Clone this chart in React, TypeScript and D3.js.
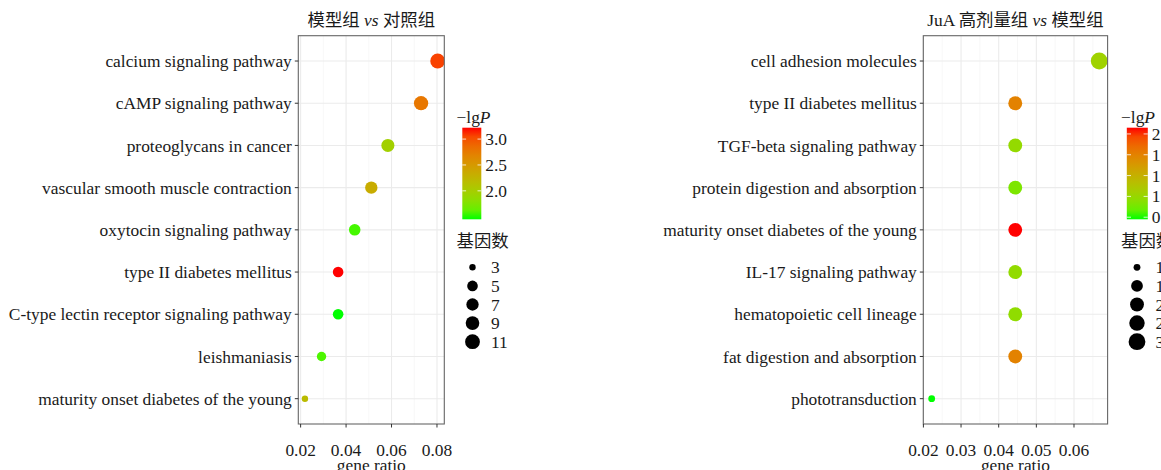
import React from "react";
import * as d3 from "d3";

// ---------- data ----------
const leftTitleA = "模型组 ";
const leftTitleB = "对照组";
const rightTitleA = "JuA 高剂量组 ";
const rightTitleB = "模型组";

const leftTerms = [
  "calcium signaling pathway",
  "cAMP signaling pathway",
  "proteoglycans in cancer",
  "vascular smooth muscle contraction",
  "oxytocin signaling pathway",
  "type II diabetes mellitus",
  "C-type lectin receptor signaling pathway",
  "leishmaniasis",
  "maturity onset diabetes of the young",
];
const leftRatio = [0.0803, 0.073, 0.0584, 0.0511, 0.0438, 0.0365, 0.0365, 0.0292, 0.0219];
const leftCount = [11, 10, 8, 7, 6, 5, 5, 4, 3];
const leftLgP = [3.08, 2.78, 1.97, 2.33, 1.53, 3.22, 1.45, 1.55, 2.18];
const leftXTicks = [0.02, 0.04, 0.06, 0.08];
const leftColorTicks = [2.0, 2.5, 3.0];
const leftSizeTicks = [3, 5, 7, 9, 11];

const rightTerms = [
  "cell adhesion molecules",
  "type II diabetes mellitus",
  "TGF-beta signaling pathway",
  "protein digestion and absorption",
  "maturity onset diabetes of the young",
  "IL-17 signaling pathway",
  "hematopoietic cell lineage",
  "fat digestion and absorption",
  "phototransduction",
];
const rightRatio = [0.0667, 0.0444, 0.0444, 0.0444, 0.0444, 0.0444, 0.0444, 0.0444, 0.0222];
const rightCount = [3, 2, 2, 2, 2, 2, 2, 2, 1];
const rightLgP = [1.24, 1.8, 1.18, 1.08, 2.19, 1.17, 1.16, 1.8, 0.87];
const rightXTicks = [0.02, 0.03, 0.04, 0.05, 0.06];
const rightColorTicks = [0.9, 1.2, 1.5, 1.8, 2.1];
const rightSizeTicks = [1.0, 1.5, 2.0, 2.5, 3.0];

// ---------- style ----------
const FONT = "'Liberation Serif', 'Times New Roman', 'Noto Sans CJK SC', serif";
const FS = 17.4;
const LOW = "#00ff00";
const HIGH = "#ff0000";

type PanelProps = {
  id: string;
  terms: string[];
  ratio: number[];
  count: number[];
  lgp: number[];
  xTicks: number[];
  colorTicks: number[];
  sizeTicks: number[];
  sizeFmt: (v: number) => string;
  colorFmt: (v: number) => string;
  titleA: string;
  titleB: string;
  box: { x0: number; x1: number; y0: number; y1: number };
  legendX: number;
  barW: number;
  dRange: [number, number];
};

function Panel(p: PanelProps) {
  const { box } = p;
  const xmin = d3.min(p.ratio)!;
  const xmax = d3.max(p.ratio)!;
  const pad = (xmax - xmin) * 0.05;
  const x = d3.scaleLinear().domain([xmin - pad, xmax + pad]).range([box.x0, box.x1]);
  const y = d3.scalePoint<string>().domain(p.terms).range([box.y0, box.y1]).padding(0.6);
  const cmin = d3.min(p.lgp)!;
  const cmax = d3.max(p.lgp)!;
  const color = d3
    .scaleLinear<string>()
    .domain([cmin, cmax])
    .range([LOW, HIGH])
    .interpolate(d3.interpolateLab);
  const smin = d3.min(p.count)!;
  const smax = d3.max(p.count)!;
  const sizeR = (c: number) => {
    const t = Math.sqrt((c - smin) / (smax - smin));
    return (p.dRange[0] + (p.dRange[1] - p.dRange[0]) * t) / 2;
  };

  const step = p.xTicks[1] - p.xTicks[0];
  const minor: number[] = [];
  const [d0, d1] = x.domain();
  for (let v = p.xTicks[0] - step / 2; v <= d1; v += step) {
    if (v >= d0) minor.push(v);
  }

  const L = p.legendX;
  const barX = L + 5.8;
  const barW = p.barW;
  const barY0 = 127.7;
  const barY1 = 219.3;
  const cbar = d3.scaleLinear().domain([cmin, cmax]).range([barY1, barY0]);
  const stops = d3.range(0, 1.0001, 0.1);
  const gradId = `grad-${p.id}`;
  const clipId = `clip-${p.id}`;

  const sizeY0 = 267.3;
  const sizeStep = 18.6;
  const circX = L + 16;

  return (
    <g>
      <defs>
        <clipPath id={clipId}>
          <rect x={box.x0} y={box.y0} width={box.x1 - box.x0} height={box.y1 - box.y0} />
        </clipPath>
        <linearGradient id={gradId} x1="0" y1="1" x2="0" y2="0">
          {stops.map((t) => (
            <stop key={t} offset={t} stopColor={color(cmin + t * (cmax - cmin))} />
          ))}
        </linearGradient>
      </defs>
      <rect x={box.x0} y={box.y0} width={box.x1 - box.x0} height={box.y1 - box.y0} fill="#fff" />
      {minor.map((v) => (
        <line key={"mn" + v} x1={x(v)} x2={x(v)} y1={box.y0} y2={box.y1} stroke="#f2f2f2" strokeWidth={0.6} />
      ))}
      {p.xTicks.map((v) => (
        <line key={"mj" + v} x1={x(v)} x2={x(v)} y1={box.y0} y2={box.y1} stroke="#ebebeb" strokeWidth={1.1} />
      ))}
      {p.terms.map((t) => (
        <line key={"h" + t} x1={box.x0} x2={box.x1} y1={y(t)} y2={y(t)} stroke="#ebebeb" strokeWidth={1.1} />
      ))}
      <g clipPath={`url(#${clipId})`}>
        {p.terms.map((t, i) => (
          <circle key={"pt" + t} cx={x(p.ratio[i])} cy={y(t)!} r={sizeR(p.count[i])} fill={color(p.lgp[i])} />
        ))}
      </g>
      <rect
        x={box.x0}
        y={box.y0}
        width={box.x1 - box.x0}
        height={box.y1 - box.y0}
        fill="none"
        stroke="#666"
        strokeWidth={1.1}
      />
      {p.terms.map((t) => (
        <g key={"yt" + t}>
          <line x1={box.x0 - 3.5} x2={box.x0} y1={y(t)} y2={y(t)} stroke="#333" strokeWidth={1} />
          <text x={box.x0 - 6.5} y={y(t)} dy="0.35em" textAnchor="end" fontSize={FS} fill="#1a1a1a">
            {t}
          </text>
        </g>
      ))}
      {p.xTicks.map((v) => (
        <g key={"xt" + v}>
          <line x1={x(v)} x2={x(v)} y1={box.y1} y2={box.y1 + 3.5} stroke="#333" strokeWidth={1} />
          <text x={x(v)} y={box.y1 + 31.5} textAnchor="middle" fontSize={FS} fill="#1a1a1a">
            {d3.format(".2f")(v)}
          </text>
        </g>
      ))}
      <text x={(box.x0 + box.x1) / 2} y={470.5} textAnchor="middle" fontSize={FS} fill="#1a1a1a">
        gene ratio
      </text>
      <text x={(box.x0 + box.x1) / 2} y={26} textAnchor="middle" fontSize={FS} fill="#1a1a1a">
        {p.titleA}
        <tspan fontStyle="italic">vs</tspan> {p.titleB}
      </text>
      <text x={L} y={123} fontSize={FS} fill="#1a1a1a">
        −lg<tspan fontStyle="italic">P</tspan>
      </text>
      <rect x={barX} y={barY0} width={barW} height={barY1 - barY0} fill={`url(#${gradId})`} />
      {p.colorTicks.map((v) => (
        <g key={"ct" + v}>
          <line x1={barX} x2={barX + barW / 5} y1={cbar(v)} y2={cbar(v)} stroke="#fff" strokeWidth={0.8} />
          <line x1={barX + barW - barW / 5} x2={barX + barW} y1={cbar(v)} y2={cbar(v)} stroke="#fff" strokeWidth={0.8} />
          <text x={barX + barW + 4} y={cbar(v)} dy="0.35em" fontSize={FS} fill="#1a1a1a">
            {p.colorFmt(v)}
          </text>
        </g>
      ))}
      <text x={L} y={247} fontSize={FS} fill="#1a1a1a">
        基因数
      </text>
      {p.sizeTicks.map((v, i) => (
        <g key={"sz" + v}>
          <circle cx={circX} cy={sizeY0 + i * sizeStep} r={sizeR(v)} fill="#000" />
          <text x={circX + 18.5} y={sizeY0 + i * sizeStep} dy="0.35em" fontSize={FS} fill="#1a1a1a">
            {p.sizeFmt(v)}
          </text>
        </g>
      ))}
    </g>
  );
}

export default function App() {
  return (
    <svg
      width={1161}
      height={470}
      style={{ position: "absolute", left: 0, top: 0, display: "block", background: "#fff" }}
      fontFamily={FONT}
    >
      <rect width={1161} height={470} fill="#fff" />
      <Panel
        id="l"
        terms={leftTerms}
        ratio={leftRatio}
        count={leftCount}
        lgp={leftLgP}
        xTicks={leftXTicks}
        colorTicks={leftColorTicks}
        sizeTicks={leftSizeTicks}
        sizeFmt={(v) => String(v)}
        colorFmt={(v) => d3.format(".1f")(v)}
        titleA={leftTitleA}
        titleB={leftTitleB}
        box={{ x0: 298.3, x1: 444.3, y0: 35.7, y1: 424 }}
        legendX={456.5}
        barW={19}
        dRange={[6.4, 14.8]}
      />
      <Panel
        id="r"
        terms={rightTerms}
        ratio={rightRatio}
        count={rightCount}
        lgp={rightLgP}
        xTicks={rightXTicks}
        colorTicks={rightColorTicks}
        sizeTicks={rightSizeTicks}
        sizeFmt={(v) => d3.format(".1f")(v)}
        colorFmt={(v) => d3.format(".1f")(v)}
        titleA={rightTitleA}
        titleB={rightTitleB}
        box={{ x0: 923.3, x1: 1107.6, y0: 35.7, y1: 424 }}
        legendX={1121}
        barW={21}
        dRange={[6.8, 16.8]}
      />
    </svg>
  );
}
